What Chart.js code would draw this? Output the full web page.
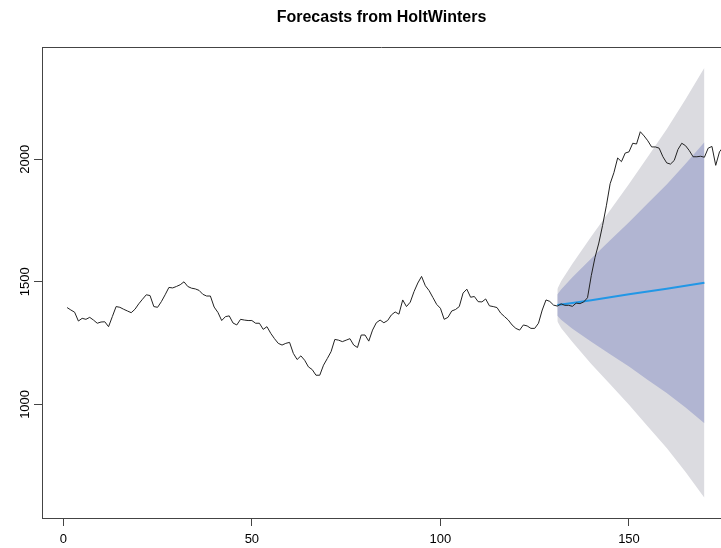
<!DOCTYPE html>
<html>
<head>
<meta charset="utf-8">
<script src="https://cdn.jsdelivr.net/npm/chart.js@4.4.1/dist/chart.umd.min.js"></script>
<style>
  html, body { margin: 0; padding: 0; background: #fff; overflow: hidden; }
  canvas { display: block; }
</style>
</head>
<body>
<canvas id="myChart" width="721" height="548"></canvas>
<script>
// observed series, t = 1..175
var series = [
  1395,1385,1376,1340,1351,1347,1355,1344,1331,1336,
  1337,1317,1358,1399,1396,1388,1381,1374,1388,1410,
  1429,1447,1444,1399,1396,1419,1447,1477,1475,1481,
  1488,1500,1481,1474,1471,1465,1449,1442,1442,1397,
  1375,1342,1358,1361,1332,1324,1347,1344,1342,1342,
  1331,1331,1306,1317,1290,1268,1249,1242,1249,1253,
  1208,1183,1198,1180,1153,1142,1119,1119,1160,1187,
  1215,1265,1262,1256,1262,1268,1242,1232,1283,1283,
  1258,1303,1333,1344,1333,1342,1365,1377,1368,1426,
  1399,1417,1460,1495,1522,1484,1464,1436,1408,1392,
  1347,1355,1381,1387,1399,1454,1470,1437,1440,1419,
  1418,1430,1402,1399,1395,1372,1358,1344,1324,1310,
  1303,1324,1320,1310,1310,1331,1385,1426,1420,1405,
  1401,1410,1404,1404,1400,1413,1411,1418,1435,1525,
  1600,1658,1730,1810,1900,1945,2005,1990,2025,2030,
  2065,2062,2112,2095,2075,2050,2050,2045,2010,1985,
  1980,1995,2040,2065,2055,2035,2010,2010,2012,2008,
  2045,2052,1975,2030,2050
];

// forecast (HoltWinters) read at these horizons
var fcX    = [131, 132, 135, 140, 145, 150, 155, 160, 165, 170];
var fcMean = [1405,1407,1414,1425,1437,1449,1460,1472,1484,1496];
var hi80   = [1448,1469,1519,1595,1669,1743,1820,1897,1981,2069];
var lo80   = [1362,1345,1309,1255,1205,1155,1100,1047, 987, 923];
var hi95   = [1471,1502,1574,1685,1792,1899,2010,2122,2244,2373];
var lo95   = [1339,1312,1254,1165,1082, 999, 910, 822, 724, 619];

var xTicks = [0, 50, 100, 150];
var yTicks = [1000, 1500, 2000];

function pts(xs, ys) {
  return xs.map(function (x, i) { return { x: x, y: ys[i] }; });
}

var rAxes = {
  id: 'rAxes',
  afterDraw: function (chart) {
    var ctx = chart.ctx, a = chart.chartArea, ys = chart.scales.y;
    ctx.save();
    // top of the box
    ctx.strokeStyle = '#444';
    ctx.lineWidth = 1;
    ctx.beginPath();
    ctx.moveTo(a.left, a.top + 0.5);
    ctx.lineTo(a.right, a.top + 0.5);
    ctx.stroke();
    // y labels, turned like R does
    ctx.fillStyle = '#000';
    ctx.font = '13px "Liberation Sans", Arial, sans-serif';
    ctx.textAlign = 'center';
    ctx.textBaseline = 'middle';
    yTicks.forEach(function (v) {
      ctx.save();
      ctx.translate(25, ys.getPixelForValue(v));
      ctx.rotate(-Math.PI / 2);
      ctx.fillText(String(v), 0, 0);
      ctx.restore();
    });
    ctx.restore();
  }
};

var ctx = document.getElementById('myChart').getContext('2d');
var myChart = new Chart(ctx, {
  type: 'line',
  data: {
    datasets: [
      { data: pts(fcX, hi95), fill: 1, backgroundColor: '#DBDBE0', borderWidth: 0, pointRadius: 0, order: 4 },
      { data: pts(fcX, lo95), fill: false, borderWidth: 0, pointRadius: 0, order: 4 },
      { data: pts(fcX, hi80), fill: 3, backgroundColor: '#B1B5D2', borderWidth: 0, pointRadius: 0, order: 3 },
      { data: pts(fcX, lo80), fill: false, borderWidth: 0, pointRadius: 0, order: 3 },
      { data: pts(fcX, fcMean), borderColor: '#2297E6', borderWidth: 2, pointRadius: 0, fill: false, order: 2 },
      { data: series.map(function (v, i) { return { x: i + 1, y: v }; }),
        borderColor: '#222', borderWidth: 1, pointRadius: 0, fill: false, order: 1 }
    ]
  },
  options: {
    responsive: false,
    animation: false,
    events: [],
    layout: { padding: 0 },
    plugins: {
      legend: { display: false },
      tooltip: { enabled: false },
      title: {
        display: true,
        text: 'Forecasts from HoltWinters',
        fullSize: false,
        color: '#000',
        font: { family: '"Liberation Sans", Arial, sans-serif', size: 16, weight: 'bold', lineHeight: 1 },
        padding: { top: 10, bottom: 21 }
      }
    },
    scales: {
      x: {
        type: 'linear',
        min: -5.65,
        max: 174.4,
        afterBuildTicks: function (s) { s.ticks = xTicks.map(function (v) { return { value: v }; }); },
        afterFit: function (s) { s.height = 30; },
        grid: { drawOnChartArea: false, drawTicks: true, tickLength: 8, color: '#444' },
        border: { display: true, color: '#444' },
        ticks: { color: '#000', padding: 6, maxRotation: 0, font: { family: '"Liberation Sans", Arial, sans-serif', size: 13 } }
      },
      y: {
        type: 'linear',
        min: 536.7,
        max: 2457.6,
        afterBuildTicks: function (s) { s.ticks = yTicks.map(function (v) { return { value: v }; }); },
        afterFit: function (s) { s.width = 42; },
        grid: { drawOnChartArea: false, drawTicks: true, tickLength: 8, color: '#444' },
        border: { display: true, color: '#444' },
        ticks: { display: false }
      }
    }
  },
  plugins: [rAxes]
});
</script>
</body>
</html>
